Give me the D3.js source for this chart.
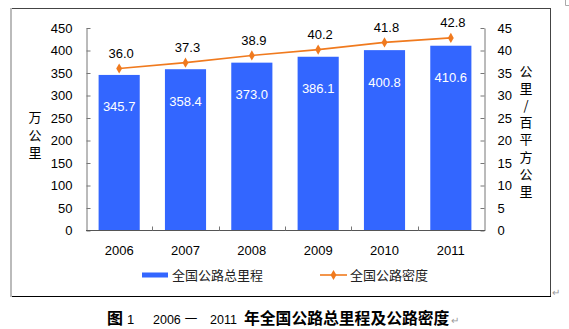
<!DOCTYPE html>
<html><head><meta charset="utf-8">
<script src="https://cdn.jsdelivr.net/npm/d3@7"></script>
<style>
html,body{margin:0;padding:0;background:#fff;}
svg{display:block;font-family:"Liberation Sans",Arial,sans-serif;}
.cjk{font-family:"Noto Sans CJK SC","Liberation Sans",sans-serif;}
.vert{writing-mode:vertical-rl;text-orientation:upright;}
</style></head>
<body>
<svg id="c" width="569" height="329"></svg>
<script>
const years = ["2006","2007","2008","2009","2010","2011"];
const mileage = [345.7, 358.4, 373.0, 386.1, 400.8, 410.6];
const density = [36.0, 37.3, 38.9, 40.2, 41.8, 42.8];
const leftTicks = [0,50,100,150,200,250,300,350,400,450];
const rightTicks = [0,5,10,15,20,25,30,35,40,45];
const seriesNames = ["全国公路总里程","全国公路密度"];
const leftTitle = "万公里";
const rightTitle = "公里/百平方公里";

const barColor = "#3366FF", lineColor = "#F07A1E";
const svg = d3.select("#c");
const L = 86, R = 484, T = 28, B = 230.5;

// frame
svg.append("line").attr("x1",10).attr("x2",551).attr("y1",8.5).attr("y2",8.5).attr("stroke","#444");
svg.append("line").attr("x1",550.5).attr("x2",550.5).attr("y1",8).attr("y2",297).attr("stroke","#444");
svg.append("line").attr("x1",10).attr("x2",551).attr("y1",296.5).attr("y2",296.5).attr("stroke","#000");
svg.append("line").attr("x1",11).attr("x2",11).attr("y1",8).attr("y2",297).attr("stroke","#bbb").attr("stroke-width",2);
// corner mark
svg.append("path").attr("d","M565.5,0V5.5H569").attr("fill","none").attr("stroke","#aaa");

const x = d3.scaleBand().domain(years).range([L,R]).paddingInner(0.38).paddingOuter(0.19);
const yL = d3.scaleLinear().domain([0,450]).range([B,T]);
const yR = d3.scaleLinear().domain([0,45]).range([B,T]);

// bars
svg.selectAll("rect.bar").data(years).enter().append("rect").attr("class","bar")
  .attr("x",d=>x(d)).attr("width",x.bandwidth())
  .attr("y",(d,i)=>yL(mileage[i])).attr("height",(d,i)=>B-yL(mileage[i]))
  .attr("fill",barColor);
svg.selectAll("text.bl").data(years).enter().append("text").attr("class","bl")
  .attr("x",d=>x(d)+x.bandwidth()/2).attr("y",(d,i)=>yL(mileage[i])+32)
  .attr("text-anchor","middle").attr("dy","0.35em").attr("fill","#fff").attr("font-size",13)
  .text((d,i)=>mileage[i].toFixed(1));

// axes
const axL = d3.axisLeft(yL).tickValues(leftTicks).tickSizeInner(-4).tickSizeOuter(0).tickPadding(14);
const gL = svg.append("g").attr("transform",`translate(${L+0.5},0)`).call(axL);
const axR = d3.axisRight(yR).tickValues(rightTicks).tickSizeInner(-4).tickSizeOuter(0).tickPadding(13);
const gR = svg.append("g").attr("transform",`translate(${R+0.5},0)`).call(axR);
[gL,gR].forEach(g=>{
  g.selectAll("path.domain").attr("stroke","#777");
  g.selectAll(".tick line").attr("stroke","#777");
  g.selectAll("text").attr("font-size",13).attr("fill","#000").attr("font-family","Liberation Sans, Arial, sans-serif");
});
// x axis
const gX = svg.append("g").attr("transform",`translate(0,${B})`);
gX.append("line").attr("x1",L).attr("x2",R+1).attr("y1",0).attr("y2",0).attr("stroke","#555");
const bounds = years.slice(1).map(d=>x(d)-x.step()*x.paddingInner()/2);
gX.selectAll("line.t").data(bounds).enter().append("line").attr("class","t")
  .attr("x1",d=>Math.round(d)+0.5).attr("x2",d=>Math.round(d)+0.5).attr("y1",0).attr("y2",-4).attr("stroke","#777");
gX.selectAll("text").data(years).enter().append("text")
  .attr("x",d=>x(d)+x.bandwidth()/2).attr("y",20).attr("dy","0.35em")
  .attr("text-anchor","middle").attr("font-size",13).text(d=>d);

// line
const lineGen = d3.line().x((d,i)=>x(years[i])+x.bandwidth()/2).y(d=>yR(d));
svg.append("path").datum(density).attr("d",lineGen).attr("fill","none").attr("stroke",lineColor).attr("stroke-width",1.6);
const diamond = d3.symbol().type(d3.symbolDiamond).size(30);
svg.selectAll("path.mk").data(density).enter().append("path").attr("class","mk")
  .attr("transform",(d,i)=>`translate(${x(years[i])+x.bandwidth()/2},${yR(d)})`)
  .attr("d",diamond).attr("fill",lineColor);
svg.selectAll("text.ll").data(density).enter().append("text").attr("class","ll")
  .attr("x",(d,i)=>x(years[i])+x.bandwidth()/2+2).attr("y",d=>yR(d)-15)
  .attr("text-anchor","middle").attr("dy","0.35em").attr("font-size",13).text(d=>d.toFixed(1));

// axis titles (vertical writing)
svg.append("text").attr("class","cjk vert").attr("x",35).attr("y",137)
  .attr("text-anchor","middle").attr("font-size",13).style("letter-spacing","4.5px").text(leftTitle);
svg.append("text").attr("class","cjk vert").attr("x",526).attr("y",133)
  .attr("text-anchor","middle").attr("font-size",13).style("letter-spacing","4.1px").text(rightTitle);

// legend
svg.append("rect").attr("x",142).attr("y",272.5).attr("width",26).attr("height",5).attr("fill",barColor);
svg.append("text").attr("class","cjk").attr("x",172).attr("y",275).attr("dy","0.35em").attr("font-size",13).attr("fill","#222").text(seriesNames[0]);
svg.append("line").attr("x1",320).attr("x2",347).attr("y1",275).attr("y2",275).attr("stroke",lineColor).attr("stroke-width",1.6);
svg.append("path").attr("transform","translate(333.5,275)").attr("d",diamond).attr("fill",lineColor);
svg.append("text").attr("class","cjk").attr("x",350).attr("y",275).attr("dy","0.35em").attr("font-size",13).attr("fill","#222").text(seriesNames[1]);

// caption
const cap = svg.append("text").attr("y",318).attr("dy","0.35em");
cap.append("tspan").attr("x",107).attr("class","cjk").attr("font-weight","bold").attr("font-size",16).text("图");
cap.append("tspan").attr("x",127).attr("font-size",13).text("1");
cap.append("tspan").attr("x",153).attr("font-size",12.5).text("2006");
cap.append("tspan").attr("x",183).attr("class","cjk").attr("font-size",16).text("－");
cap.append("tspan").attr("x",210).attr("font-size",12.5).text("2011");
cap.append("tspan").attr("x",244).attr("class","cjk").attr("font-weight","bold").attr("font-size",15.8).text("年全国公路总里程及公路密度");
svg.append("text").attr("x",451).attr("y",320).attr("dy","0.35em").attr("font-size",10).attr("fill","#999").text("↵");
svg.append("text").attr("x",552).attr("y",292).attr("dy","0.35em").attr("font-size",10).attr("fill","#999").text("↵");
</script>
</body></html>
